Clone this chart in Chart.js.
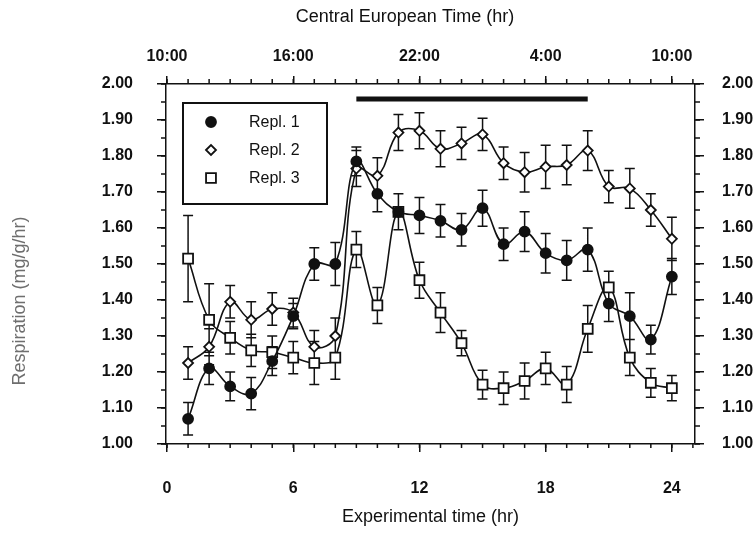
<!DOCTYPE html>
<html>
<head>
<meta charset="utf-8">
<script src="https://cdn.jsdelivr.net/npm/chart.js@4.4.1/dist/chart.umd.min.js"></script>
<style>
  html, body { margin: 0; padding: 0; background: #fff; }
  #wrap { width: 755px; height: 533px; }
</style>
</head>
<body>
<div id="wrap"><canvas id="respChart" width="755" height="533"></canvas></div>
<script>
// Respiration of three replicates, hourly over 24 hr
const hours = [1, 2, 3, 4, 5, 6, 7, 8, 9, 10, 11, 12, 13, 14, 15, 16, 17, 18, 19, 20, 21, 22, 23, 24];

const repl1 = [1.07, 1.21, 1.16, 1.14, 1.23, 1.355, 1.50, 1.50, 1.785, 1.695, 1.645, 1.635, 1.62, 1.595, 1.655, 1.555, 1.59, 1.53, 1.51, 1.54, 1.39, 1.355, 1.29, 1.465];
const repl1Err = [0.045, 0.045, 0.04, 0.045, 0.04, 0.035, 0.045, 0.06, 0.04, 0.05, 0.05, 0.05, 0.045, 0.045, 0.05, 0.045, 0.055, 0.055, 0.055, 0.06, 0.05, 0.065, 0.04, 0.05];

const repl2 = [1.225, 1.27, 1.395, 1.345, 1.375, 1.365, 1.27, 1.30, 1.765, 1.745, 1.865, 1.87, 1.82, 1.835, 1.86, 1.78, 1.755, 1.77, 1.775, 1.815, 1.715, 1.71, 1.65, 1.57];
const repl2Err = [0.045, 0.05, 0.045, 0.05, 0.045, 0.04, 0.045, 0.05, 0.05, 0.05, 0.05, 0.05, 0.05, 0.045, 0.045, 0.045, 0.055, 0.06, 0.055, 0.055, 0.045, 0.055, 0.045, 0.06];

const repl3 = [1.515, 1.345, 1.295, 1.26, 1.255, 1.24, 1.225, 1.24, 1.54, 1.385, 1.645, 1.455, 1.365, 1.28, 1.165, 1.155, 1.175, 1.21, 1.165, 1.32, 1.435, 1.24, 1.17, 1.155];
const repl3Err = [0.12, 0.1, 0.045, 0.045, 0.045, 0.045, 0.06, 0.06, 0.05, 0.05, 0.05, 0.05, 0.055, 0.035, 0.04, 0.045, 0.05, 0.045, 0.05, 0.065, 0.045, 0.05, 0.04, 0.035];

const seriesLabels = ["Repl. 1", "Repl. 2", "Repl. 3"];

// dark period bar
const darkStart = 9;
const darkEnd = 20;
const darkLevel = 1.958;

const tickHours = [0, 6, 12, 18, 24];
const bottomTickLabels = ["0", "6", "12", "18", "24"];
const topTickLabels = ["10:00", "16:00", "22:00", "4:00", "10:00"];
const yTickLabels = ["1.00", "1.10", "1.20", "1.30", "1.40", "1.50", "1.60", "1.70", "1.80", "1.90", "2.00"];

const topTitle = "Central European Time (hr)";
const bottomTitle = "Experimental time (hr)";
const leftTitle = "Respiration (mg/g/hr)";

const INK = "#111";
const FAMILY = "'Liberation Sans', Arial, Helvetica, sans-serif";
const tickFont = { family: FAMILY, size: 16, weight: "bold" };

function toPoints(vals) {
  return hours.map((h, i) => ({ x: h, y: vals[i] }));
}

function hourLabel(labels) {
  return v => {
    const idx = tickHours.indexOf(Math.round(v));
    return idx >= 0 ? labels[idx] : "";
  };
}

function yLabel(v) {
  const idx = Math.round((v - 1) * 10);
  return yTickLabels[idx] || "";
}

const errors = [repl1Err, repl2Err, repl3Err];

// error bars drawn under the markers
const errorBars = {
  id: "errorBars",
  beforeDatasetsDraw(chart) {
    const { ctx, scales } = chart;
    ctx.save();
    ctx.strokeStyle = INK;
    ctx.lineWidth = 1.5;
    ctx.beginPath();
    chart.data.datasets.forEach((ds, di) => {
      const err = errors[di];
      if (!err) return;
      ds.data.forEach((p, j) => {
        const px = scales.x.getPixelForValue(p.x);
        const top = scales.y.getPixelForValue(p.y + err[j]);
        const bot = scales.y.getPixelForValue(p.y - err[j]);
        ctx.moveTo(px, top); ctx.lineTo(px, bot);
        ctx.moveTo(px - 5, top); ctx.lineTo(px + 5, top);
        ctx.moveTo(px - 5, bot); ctx.lineTo(px + 5, bot);
      });
    });
    ctx.stroke();
    ctx.restore();
  }
};

// short minor ticks between the labelled ones
const minorTicks = {
  id: "minorTicks",
  afterDraw(chart) {
    const { ctx, chartArea: a, scales } = chart;
    ctx.save();
    ctx.strokeStyle = INK;
    ctx.lineWidth = 1.5;
    ctx.beginPath();
    for (let h = 0; h <= 25; h++) {
      const px = scales.x.getPixelForValue(h);
      ctx.moveTo(px, a.bottom); ctx.lineTo(px, a.bottom + 4);
      ctx.moveTo(px, a.top); ctx.lineTo(px, a.top - 5);
    }
    for (let k = 0; k <= 20; k++) {
      const py = scales.y.getPixelForValue(1 + k * 0.05);
      ctx.moveTo(a.left, py); ctx.lineTo(a.left - 5, py);
      ctx.moveTo(a.right, py); ctx.lineTo(a.right + 5, py);
    }
    ctx.stroke();
    ctx.restore();
  }
};

// boxed legend in the upper left of the plot
const boxLegend = {
  id: "boxLegend",
  afterDraw(chart) {
    const ctx = chart.ctx;
    const bx = 183, by = 103, bw = 144, bh = 101;
    ctx.save();
    ctx.strokeStyle = INK;
    ctx.lineWidth = 2;
    ctx.strokeRect(bx, by, bw, bh);
    ctx.font = "16px " + FAMILY;
    ctx.textBaseline = "middle";
    for (let i = 0; i < 3; i++) {
      const ds = chart.data.datasets[i];
      const y = by + 19 + i * 28;
      ctx.fillStyle = ds.pointBackgroundColor;
      ctx.strokeStyle = INK;
      ctx.lineWidth = ds.pointBorderWidth;
      Chart.helpers.drawPoint(ctx, {
        pointStyle: ds.pointStyle,
        radius: ds.pointRadius,
        rotation: 0,
        borderWidth: ds.pointBorderWidth
      }, bx + 28, y);
      ctx.fillStyle = INK;
      ctx.fillText(ds.label, bx + 66, y + 1);
    }
    ctx.restore();
  }
};

// the two titles that are not centred on their axis
const sideTitles = {
  id: "sideTitles",
  afterDraw(chart) {
    const ctx = chart.ctx;
    ctx.save();
    ctx.font = "18px " + FAMILY;
    ctx.textAlign = "center";
    ctx.textBaseline = "middle";
    ctx.fillStyle = INK;
    ctx.fillText(topTitle, 405, 17);
    ctx.translate(20, 301);
    ctx.rotate(-Math.PI / 2);
    ctx.fillStyle = "#6e6e6e";
    ctx.fillText(leftTitle, 0, 0);
    ctx.restore();
  }
};

function seriesDataset(label, vals, style, radius, fill) {
  return {
    label: label,
    data: toPoints(vals),
    borderColor: INK,
    borderWidth: 1.6,
    tension: 0.4,
    pointStyle: style,
    pointRadius: radius,
    pointHoverRadius: radius,
    pointBackgroundColor: fill,
    pointBorderColor: INK,
    pointBorderWidth: 1.8,
    xAxisID: "x",
    yAxisID: "y"
  };
}

function axisGrid(len) {
  return { display: true, drawOnChartArea: false, drawTicks: true, tickLength: len, color: INK, lineWidth: 1.5 };
}

const border = { display: true, color: INK, width: 1.5 };

const ctx = document.getElementById("respChart").getContext("2d");
const respChart = new Chart(ctx, {
  type: "line",
  data: {
    datasets: [
      seriesDataset(seriesLabels[0], repl1, "circle", 5, INK),
      seriesDataset(seriesLabels[1], repl2, "rectRot", 5, "#fff"),
      seriesDataset(seriesLabels[2], repl3, "rect", 7, "#fff"),
      {
        label: "Dark period",
        data: [{ x: darkStart, y: darkLevel }, { x: darkEnd, y: darkLevel }],
        borderColor: INK,
        borderWidth: 5,
        pointRadius: 0,
        tension: 0,
        xAxisID: "x",
        yAxisID: "y"
      }
    ]
  },
  options: {
    responsive: false,
    animation: false,
    devicePixelRatio: 1,
    layout: { padding: 0 },
    plugins: {
      legend: { display: false },
      tooltip: { enabled: false }
    },
    scales: {
      x: {
        type: "linear",
        position: "bottom",
        display: true,
        min: -0.05,
        max: 25.1,
        afterFit: s => { s.height = 89; },
        grid: axisGrid(8),
        border: border,
        ticks: {
          stepSize: 6, includeBounds: false, autoSkip: false, maxRotation: 0,
          padding: 27, color: INK, font: tickFont, callback: hourLabel(bottomTickLabels)
        },
        title: {
          display: true, text: bottomTitle, color: INK,
          font: { family: FAMILY, size: 18 }, padding: { top: 0, bottom: 5 }
        }
      },
      x2: {
        type: "linear",
        position: "top",
        display: true,
        min: -0.05,
        max: 25.1,
        afterFit: s => { s.height = 84; },
        grid: axisGrid(8),
        border: border,
        ticks: {
          stepSize: 6, includeBounds: false, autoSkip: false, maxRotation: 0,
          padding: 10, color: INK, font: tickFont, callback: hourLabel(topTickLabels)
        }
      },
      y: {
        type: "linear",
        position: "left",
        display: true,
        min: 1,
        max: 2,
        afterFit: s => { s.width = 166; },
        grid: axisGrid(9),
        border: border,
        ticks: { stepSize: 0.1, includeBounds: false, autoSkip: false, padding: 24, color: INK, font: tickFont, callback: yLabel }
      },
      y2: {
        type: "linear",
        position: "right",
        display: true,
        min: 1,
        max: 2,
        afterFit: s => { s.width = 60; },
        grid: axisGrid(9),
        border: border,
        ticks: { stepSize: 0.1, includeBounds: false, autoSkip: false, padding: 18, color: INK, font: tickFont, callback: yLabel }
      }
    }
  },
  plugins: [errorBars, minorTicks, boxLegend, sideTitles]
});
</script>
</body>
</html>
